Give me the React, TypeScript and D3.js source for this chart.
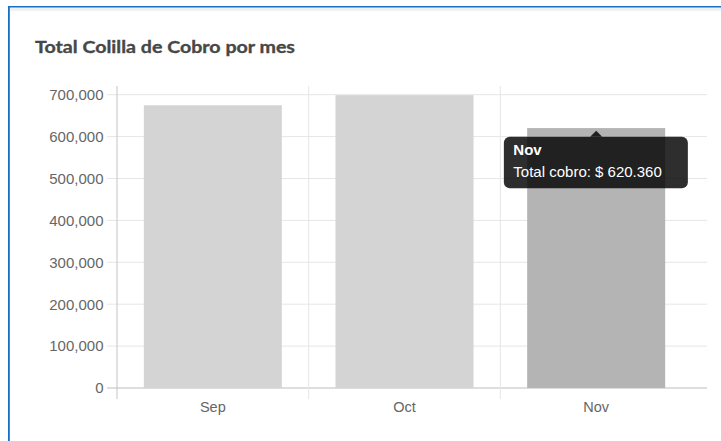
import React from "react";
import * as d3 from "d3";

const categories = ["Sep", "Oct", "Nov"];
const values = [674800, 698900, 620360];
const yTicks = [0, 100000, 200000, 300000, 400000, 500000, 600000, 700000];
const title = "Total Colilla de Cobro por mes";
const tooltipTitle = "Nov";
const tooltipBody = "Total cobro: $ 620.360";
const activeIndex = 2;

export default function App() {
  const W = 721, H = 441;
  const left = 117, right = 692, gridRight = 707;
  const top = 94.7, bottom = 388;
  const y = d3.scaleLinear().domain([0, 700000]).range([bottom, top]);
  const x = d3.scaleBand<string>().domain(categories).range([left, right]).paddingInner(0).paddingOuter(0);
  const bw = x.bandwidth();
  const barW = bw * 0.72;
  const fmt = d3.format(",");
  const font = "'Liberation Sans', Arial, sans-serif";

  const ax = (x(categories[activeIndex]) ?? 0) + bw / 2;
  const ay = y(values[activeIndex]);
  const tipTop = ay + 8.6;
  const tipL = ax - 92.3, tipR = ax + 91.7, tipB = tipTop + 51.6;

  return (
    <svg width={W} height={H} style={{ position: "absolute", left: 0, top: 0, background: "#fff" }}>
      {/* card */}
      <rect x={8} y={6} width={W - 8} height={H - 6} fill="#fff" />
      <rect x={9.5} y={7.3} width={W - 9.5} height={3.7} fill="#eef2f4" />
      <rect x={8} y={6} width={W - 8} height={1.5} fill="#1a6fc4" />
      <rect x={8} y={6} width={1.8} height={H - 6} fill="#1a6fc4" />

      <text x={35} y={53} fontFamily="Lato, 'Open Sans', sans-serif" fontWeight={700} fontSize={17.5}
        fill="#474747" stroke="#474747" strokeWidth={0.35} textLength={260} lengthAdjust="spacingAndGlyphs">{title}</text>

      {/* horizontal grid */}
      {yTicks.map((t) => (
        <line key={"h" + t} x1={107} x2={gridRight} y1={y(t)} y2={y(t)}
          stroke={t === 0 ? "#bdbdbd" : "#e6e6e6"} strokeWidth={1} />
      ))}
      {/* vertical grid */}
      {categories.map((c, i) => (
        <line key={"v" + c} x1={x(c)} x2={x(c)} y1={86} y2={399}
          stroke={i === 0 ? "#c4c4c4" : "#e6e6e6"} strokeWidth={1} />
      ))}

      {/* bars */}
      {categories.map((c, i) => {
        const cx = (x(c) ?? 0) + bw / 2;
        return (
          <rect key={"b" + c} x={cx - barW / 2} y={y(values[i])} width={barW}
            height={bottom - y(values[i])} fill={i === activeIndex ? "#b4b4b4" : "#d4d4d4"} />
        );
      })}

      {/* y labels */}
      {yTicks.map((t) => (
        <text key={"yl" + t} x={103.5} y={y(t) + 5.3} textAnchor="end" fontFamily={font}
          fontSize={15} fill="#666">{fmt(t)}</text>
      ))}
      {/* x labels */}
      {categories.map((c) => (
        <text key={"xl" + c} x={(x(c) ?? 0) + bw / 2} y={411.5} textAnchor="middle" fontFamily={font}
          fontSize={14.5} fill="#666">{c}</text>
      ))}

      {/* tooltip */}
      <g>
        <rect x={tipL} y={tipTop} width={tipR - tipL} height={tipB - tipTop} rx={6} ry={6}
          fill="rgba(0,0,0,0.82)" />
        <path d={`M${ax - 6},${tipTop} L${ax},${tipTop - 6} L${ax + 6},${tipTop} Z`} fill="rgba(0,0,0,0.82)" />
        <text x={tipL + 9.5} y={tipTop + 18.5} fontFamily={font} fontWeight={700} fontSize={15} fill="#fff">{tooltipTitle}</text>
        <text x={tipL + 9.5} y={tipTop + 40} fontFamily={font} fontSize={15} fill="#fff">{tooltipBody}</text>
      </g>
    </svg>
  );
}
